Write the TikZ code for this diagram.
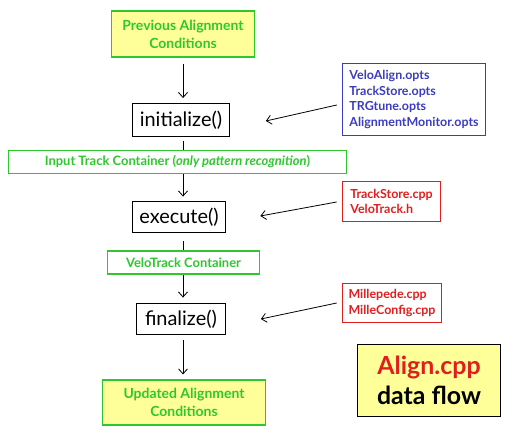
\documentclass[tikz,border=0pt]{standalone}
\usepackage{fontspec}
\setmainfont{Lato}
\usetikzlibrary{arrows.meta}
\definecolor{condgreen}{RGB}{45,200,45}
\definecolor{condfill}{RGB}{255,255,153}
\definecolor{optsblue}{RGB}{60,60,190}
\definecolor{srcred}{RGB}{225,30,30}
\newcommand{\fsz}[2]{\fontsize{#1}{#2}\selectfont}

\begin{document}
\begin{tikzpicture}[x=1bp,y=-1bp,
    flow/.style={-{Straight Barb[length=5bp,width=9bp]}, line width=0.8bp},
    cond/.style={draw=condgreen, fill=condfill, line width=1.3bp, text=condgreen,
      font=\bfseries\fsz{14}{18}, align=center, inner sep=0pt},
    method/.style={draw=black, fill=white, line width=1bp, font=\fsz{20}{22}, inner sep=0pt},
    container/.style={draw=condgreen, fill=white, line width=1.2bp, text=condgreen,
      font=\bfseries\fsz{13}{15}, inner sep=0pt, minimum height=23},
    srcbox/.style={fill=white, line width=1bp, align=left, inner sep=0pt,
      font=\bfseries\fsz{12.5}{15.5}}]
  \useasboundingbox (0,0) rectangle (513,434);
  % main column: conditions and algorithm steps
  \node[cond, minimum width=144, minimum height=46] (prev) at (183,34) {Previous Alignment\\Conditions};
  \node[method, minimum width=97, minimum height=33] (init) at (181,120) {initialize()};
  \node[method, minimum width=94, minimum height=32] (exec) at (179,217) {execute()};
  \node[method, minimum width=89, minimum height=32] (final) at (181,319) {finalize()};
  \node[cond, minimum width=164, minimum height=45] (updated) at (184,402.5) {Updated Alignment\\Conditions};
  % flow down the column
  \draw[flow, shorten <=6bp, shorten >=5bp] (prev.south) -- (prev.south |- init.north);
  \draw[flow, shorten <=4bp, shorten >=4bp] (prev.south |- init.south) -- (prev.south |- exec.north);
  \draw[flow, shorten <=8bp, shorten >=5bp] (prev.south |- exec.south) -- (prev.south |- final.north);
  \draw[flow, shorten <=5bp, shorten >=5bp] (prev.south |- final.south) -- (prev.south |- updated.north);
  % track containers sit on top of the flow lines
  \node[container, minimum width=339] (input) at (177.5,162)
    {Input Track Container (\textit{only pattern recognition})};
  \node[container, minimum width=153] (velo) at (183.5,262.5) {VeloTrack Container};
  % option and source files
  \node[srcbox, draw=optsblue, text=optsblue, minimum width=144, minimum height=73] (opts) at (414,99.5)
    {VeloAlign.opts\\TrackStore.opts\\TRGtune.opts\\AlignmentMonitor.opts};
  \node[srcbox, draw=srcred, text=srcred, minimum width=99, minimum height=41] (trackcpp) at (391.5,201.5)
    {TrackStore.cpp\\VeloTrack.h};
  \node[srcbox, draw=srcred, text=srcred, minimum width=100, minimum height=40] (millecpp) at (392,303)
    {Millepede.cpp\\MilleConfig.cpp};
  \coordinate (initin) at ([shift={(36,1)}]init.east);
  \coordinate (execin) at ([shift={(34,-1)}]exec.east);
  \coordinate (finalin) at ([shift={(35,0)}]final.east);
  \draw[flow] ([shift={(-5,5.5)}]opts.west) -- (initin);
  \draw[flow] ([shift={(-5,0.5)}]trackcpp.west) -- (execin);
  \draw[flow] ([shift={(-5,0)}]millecpp.west) -- (finalin);
  % title box
  \node[draw=black, fill=condfill, line width=1bp, minimum width=144, minimum height=73,
    align=center, inner sep=0pt, font=\bfseries\fsz{25}{30}] (title) at (429,380.5)
    {\textcolor{srcred}{Align.cpp}\\data flow};
\end{tikzpicture}
\end{document}
